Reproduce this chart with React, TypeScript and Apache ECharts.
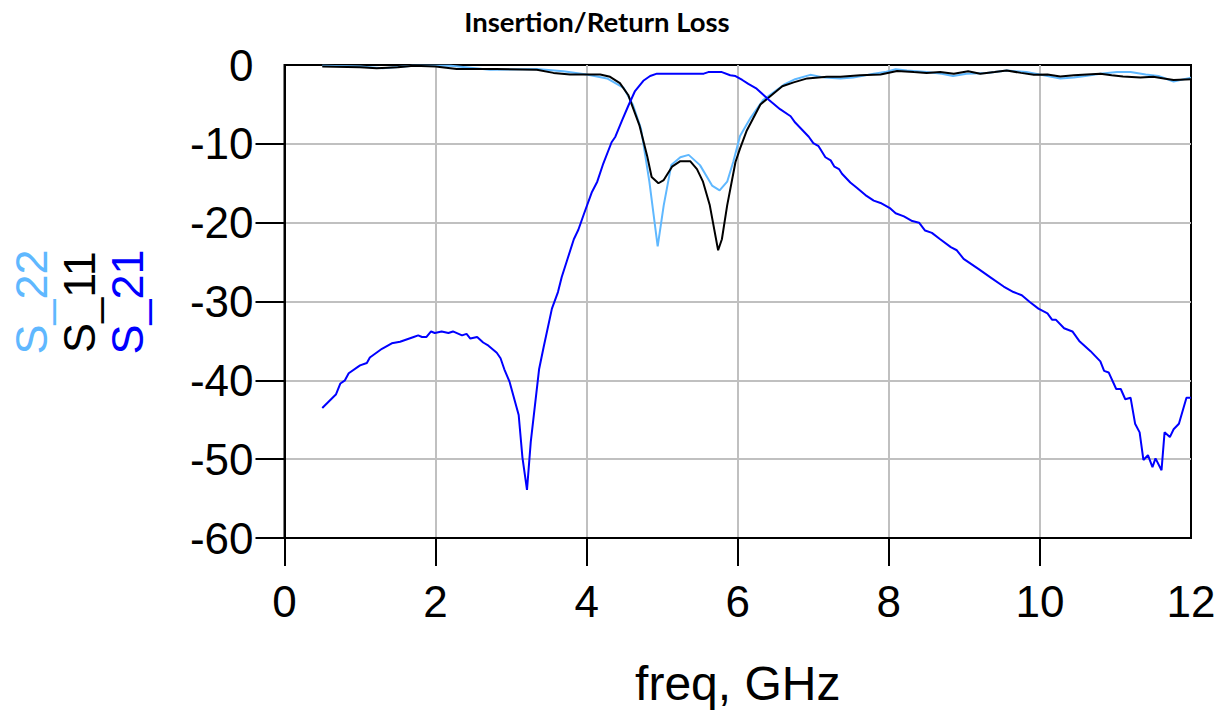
import React, { useEffect, useRef } from "react";
import * as echarts from "echarts";

const xTicks = [0, 2, 4, 6, 8, 10, 12];
const yTicks = [-60, -50, -40, -30, -20, -10, 0];

const s21Freq = [0.5, 0.68, 0.74, 0.8, 0.85, 1.0, 1.09, 1.13, 1.29, 1.42, 1.53, 1.71, 1.77, 1.82, 1.88, 1.94, 1.99, 2.08, 2.17, 2.23, 2.35, 2.41, 2.46, 2.55, 2.63, 2.7, 2.81, 2.86, 2.91, 2.98, 3.1, 3.15, 3.21, 3.26, 3.37, 3.43, 3.54, 3.62, 3.67, 3.74, 3.83, 3.89, 3.96, 4.07, 4.14, 4.22, 4.33, 4.38, 4.47, 4.55, 4.64, 4.75, 4.84, 4.93, 5.55, 5.61, 5.79, 5.9, 5.97, 6.06, 6.14, 6.25, 6.41, 6.56, 6.7, 6.76, 6.94, 7.0, 7.07, 7.16, 7.23, 7.28, 7.34, 7.38, 7.49, 7.58, 7.69, 7.8, 7.89, 8.02, 8.09, 8.2, 8.31, 8.4, 8.48, 8.57, 8.68, 8.82, 8.9, 8.99, 9.19, 9.34, 9.52, 9.65, 9.76, 9.87, 9.98, 10.1, 10.16, 10.21, 10.32, 10.43, 10.52, 10.67, 10.8, 10.85, 10.91, 11.01, 11.07, 11.13, 11.2, 11.26, 11.32, 11.37, 11.43, 11.49, 11.53, 11.61, 11.65, 11.72, 11.77, 11.84, 11.94, 12.0];
const s21Db = [-43.5, -41.8, -40.4, -40.0, -39.1, -38.1, -37.8, -37.1, -36.0, -35.3, -35.1, -34.5, -34.3, -34.5, -34.5, -33.8, -34.0, -33.8, -34.0, -33.8, -34.3, -34.1, -34.7, -34.5, -35.2, -35.6, -36.5, -37.2, -38.6, -40.2, -44.4, -49.8, -53.9, -47.8, -38.6, -35.8, -30.9, -28.8, -26.9, -24.8, -22.1, -20.9, -19.0, -16.1, -14.8, -12.5, -9.8, -9.1, -7.0, -5.2, -3.3, -2.0, -1.4, -1.1, -1.1, -0.9, -0.9, -1.3, -1.4, -1.9, -2.4, -3.0, -4.4, -5.6, -6.5, -7.3, -9.1, -9.9, -10.3, -11.7, -12.1, -12.9, -13.2, -13.8, -14.9, -15.6, -16.5, -17.2, -17.5, -18.2, -18.8, -19.2, -19.8, -20.0, -21.0, -21.3, -22.1, -23.1, -23.5, -24.6, -25.9, -26.9, -28.1, -28.8, -29.2, -30.1, -30.9, -31.5, -32.3, -32.3, -33.4, -33.8, -35.0, -36.3, -37.6, -38.8, -39.0, -41.1, -41.1, -42.4, -42.2, -45.5, -46.6, -50.1, -49.5, -51.0, -49.9, -51.4, -46.6, -47.2, -46.2, -45.5, -42.2, -42.2];

const s11Freq = [0.5, 1.0, 1.22, 1.5, 1.71, 2.0, 2.28, 2.8, 3.34, 3.56, 3.78, 4.18, 4.31, 4.44, 4.55, 4.7, 4.8, 4.86, 4.95, 5.02, 5.13, 5.24, 5.37, 5.46, 5.54, 5.63, 5.74, 5.79, 5.86, 5.97, 6.03, 6.12, 6.3, 6.45, 6.59, 6.74, 6.92, 7.18, 7.36, 7.62, 7.89, 8.11, 8.33, 8.5, 8.68, 8.86, 9.05, 9.21, 9.4, 9.56, 9.75, 9.92, 10.1, 10.27, 10.45, 10.62, 10.8, 10.95, 11.1, 11.33, 11.5, 11.64, 11.77, 12.0];
const s11Db = [-0.2, -0.3, -0.4, -0.3, -0.1, -0.2, -0.5, -0.5, -0.6, -1.0, -1.2, -1.2, -1.5, -2.3, -3.8, -7.7, -11.5, -14.2, -15.0, -14.6, -12.9, -12.2, -12.2, -13.2, -14.8, -17.8, -23.5, -22.1, -17.8, -12.3, -10.6, -8.3, -5.0, -3.8, -2.7, -2.2, -1.7, -1.5, -1.5, -1.3, -1.2, -0.75, -0.9, -1.0, -0.9, -1.1, -0.8, -1.1, -0.9, -0.7, -1.0, -1.25, -1.2, -1.45, -1.3, -1.2, -1.1, -1.3, -1.45, -1.6, -1.5, -1.7, -1.9, -1.8];

const s22Freq = [0.5, 1.0, 1.3, 1.7, 2.2, 2.72, 3.34, 3.69, 4.0, 4.27, 4.49, 4.61, 4.72, 4.83, 4.94, 5.02, 5.12, 5.24, 5.35, 5.5, 5.66, 5.76, 5.86, 5.94, 6.03, 6.17, 6.34, 6.61, 6.76, 6.96, 7.15, 7.36, 7.53, 7.8, 7.95, 8.09, 8.24, 8.5, 8.7, 8.85, 9.03, 9.3, 9.56, 9.82, 10.05, 10.27, 10.45, 10.6, 10.8, 11.02, 11.2, 11.4, 11.57, 11.77, 12.0];
const s22Db = [-0.1, -0.2, -0.4, -0.1, -0.1, -0.6, -0.5, -0.8, -1.2, -1.7, -2.9, -5.0, -8.1, -14.8, -23.0, -17.8, -12.7, -11.7, -11.4, -12.7, -15.3, -15.9, -14.8, -12.3, -9.0, -6.7, -4.4, -2.5, -1.8, -1.25, -1.6, -1.7, -1.6, -1.1, -0.9, -0.55, -0.7, -0.9, -1.1, -1.4, -1.1, -1.0, -0.7, -0.9, -1.3, -1.7, -1.6, -1.4, -1.1, -0.9, -0.9, -1.2, -1.4, -2.1, -1.6];

const seriesNames = ["S_22", "S_11", "S_21"];
const seriesColors = ["#5fb8ff", "#000000", "#0000ff"];

const pairs = (xs: number[], ys: number[]) => xs.map((x, i) => [x, ys[i]]);

export default function App() {
  const ref = useRef<HTMLDivElement>(null);
  useEffect(() => {
    if (!ref.current) return;
    const chart = echarts.init(ref.current, null, { renderer: "svg" });
    const font = "'Liberation Sans', Arial, sans-serif";
    const dataSets = [pairs(s22Freq, s22Db), pairs(s11Freq, s11Db), pairs(s21Freq, s21Db)];
    chart.setOption({
      animation: false,
      backgroundColor: "#ffffff",
      title: {
        text: "Insertion/Return Loss",
        left: 592,
        top: 2,
        textAlign: "center",
        textStyle: { fontFamily: "Lato, 'Open Sans', sans-serif", fontWeight: "bold", fontSize: 27.5, color: "#000" },
      },
      grid: {
        left: 284.5,
        right: 36,
        top: 65,
        bottom: 168,
        show: true,
        borderColor: "#000",
        borderWidth: 2,
        backgroundColor: "transparent",
      },
      xAxis: {
        type: "value",
        min: xTicks[0],
        max: xTicks[xTicks.length - 1],
        interval: 2,
        name: "freq, GHz",
        nameLocation: "middle",
        nameGap: 121,
        nameTextStyle: { fontFamily: font, fontSize: 48, color: "#000" },
        axisLine: { show: true, onZero: false, lineStyle: { color: "#000", width: 2 } },
        axisTick: { show: true, length: 28, inside: false, customValues: xTicks.slice(0, -1), lineStyle: { color: "#000", width: 2 } },
        axisLabel: { fontFamily: font, fontSize: 44, color: "#000", margin: 41, showMinLabel: true, showMaxLabel: true },
        splitLine: { show: true, lineStyle: { color: "#c0c0c0", width: 2 } },
      },
      yAxis: {
        type: "value",
        min: yTicks[0],
        max: yTicks[yTicks.length - 1],
        interval: 10,
        axisLine: { show: true, onZero: false, lineStyle: { color: "#000", width: 2 } },
        axisTick: { show: true, length: 29, inside: false, customValues: yTicks.slice(0, -1), lineStyle: { color: "#000", width: 2 } },
        axisLabel: { fontFamily: font, fontSize: 44, color: "#000", margin: 31, showMinLabel: true, showMaxLabel: true },
        splitLine: { show: true, lineStyle: { color: "#c0c0c0", width: 2 } },
      },
      graphic: seriesNames.map((n, i) => ({
        type: "text",
        x: 31 + i * 48,
        y: 302,
        rotation: Math.PI / 2,
        style: {
          text: n,
          fill: seriesColors[i],
          font: `45px ${font}`,
          textAlign: "center",
          textVerticalAlign: "middle",
        },
      })),
      series: seriesNames.map((n, i) => ({
        name: n,
        type: "line",
        data: dataSets[i],
        showSymbol: false,
        symbol: "none",
        clip: false,
        lineStyle: { color: seriesColors[i], width: 2 },
        z: i === 2 ? 3 : 2,
      })),
    });
    return () => chart.dispose();
  }, []);
  return (
    <div
      ref={ref}
      style={{ position: "fixed", left: 0, top: 0, width: 1227, height: 712 }}
    />
  );
}
